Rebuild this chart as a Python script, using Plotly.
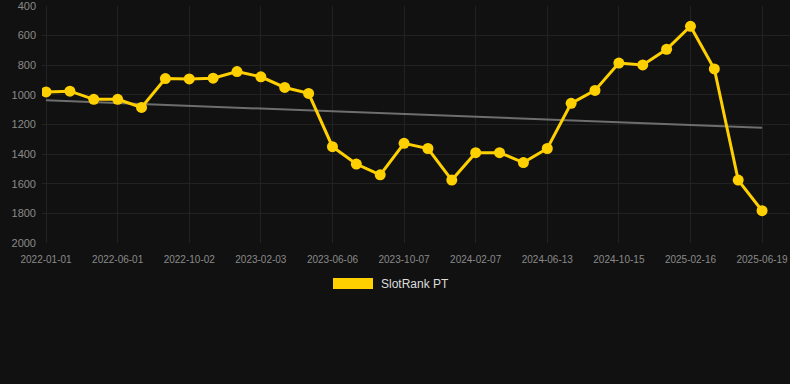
import plotly.graph_objects as go

# SlotRank PT values (lower rank number = better; axis reversed)
rank = [980, 975, 1030, 1030, 1085, 890, 892, 887, 843, 878,
        950, 990, 1350, 1467, 1540, 1327, 1362, 1575, 1390, 1390,
        1457, 1362, 1057, 970, 785, 798, 692, 537, 825, 1575, 1782]

# tick labels shown on every third point
tick_labels = ["2022-01-01", "2022-06-01", "2022-10-02", "2023-02-03",
               "2023-06-06", "2023-10-07", "2024-02-07", "2024-06-13",
               "2024-10-15", "2025-02-16", "2025-06-19"]

# linear trend endpoints
trend_values = [1037, 1222]

y_ticks = [400, 600, 800, 1000, 1200, 1400, 1600, 1800, 2000]

idx = list(range(len(rank)))
tick_pos = idx[::3]

YELLOW = "#FFD000"
BG = "#111111"
GRID = "#222222"
TICK = "#8a8a8a"

fig = go.Figure()
fig.add_trace(go.Scatter(
    x=[idx[0], idx[-1]], y=trend_values, mode="lines",
    line=dict(color="#6e6e6e", width=2), hoverinfo="skip", showlegend=False))
fig.add_trace(go.Scatter(
    x=idx, y=rank, mode="lines+markers", name="SlotRank PT",
    line=dict(color=YELLOW, width=3),
    marker=dict(color=YELLOW, size=11), showlegend=False))

# legend drawn as a colour swatch and label
fig.add_shape(type="rect", xref="paper", yref="paper",
              x0=(333 - 42) / 748, x1=(373 - 42) / 748,
              y0=(243 - 289) / 237, y1=(243 - 278) / 237,
              fillcolor=YELLOW, line=dict(width=0))
fig.add_annotation(xref="paper", yref="paper",
                   x=(379 - 42) / 748, y=(243 - 284) / 237,
                   xanchor="left", yanchor="middle", showarrow=False,
                   text="SlotRank PT",
                   font=dict(color="#dddddd", size=12,
                             family="Liberation Sans, Arial, sans-serif"))

fig.update_layout(
    width=790, height=384,
    paper_bgcolor=BG, plot_bgcolor=BG,
    margin=dict(l=42, r=0, t=6, b=141),
    font=dict(family="Liberation Sans, Arial, sans-serif", color=TICK),
    showlegend=False,
    xaxis=dict(
        range=[-0.17, 31.17], tickvals=tick_pos, ticktext=tick_labels,
        tickfont=dict(size=10, color=TICK), showgrid=True, gridcolor=GRID,
        gridwidth=1, zeroline=False, showline=False, ticks="", ticklen=0,
        ticklabelstandoff=9, ticklabeloverflow="allow"),
    yaxis=dict(
        range=[2000, 400], tickvals=y_ticks,
        tickfont=dict(size=11, color=TICK), showgrid=True, gridcolor=GRID,
        gridwidth=1, zeroline=False, showline=False, ticks="",
        ticklabelstandoff=5, ticklabeloverflow="allow"),
)

fig.write_html("out.html",
               config={"displayModeBar": False},
               post_script="document.body.style.margin='0';"
                           "document.body.style.background='#111111';")
